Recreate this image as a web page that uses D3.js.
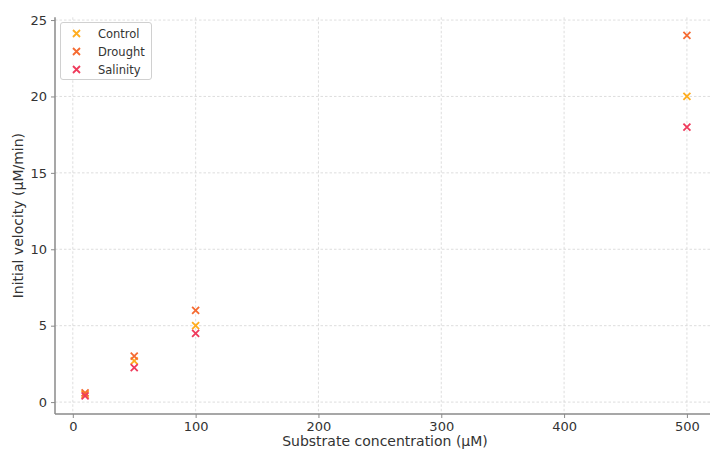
<!DOCTYPE html>
<html><head><meta charset="utf-8">
<script src="https://cdn.jsdelivr.net/npm/d3@7"></script>
<style>body{margin:0;background:#fff;} svg{display:block;font-family:"DejaVu Sans",sans-serif;}</style>
</head><body>
<script>
const substrate = [10, 50, 100, 500];
const seriesNames = ["Control", "Drought", "Salinity"];
const controlValues = [0.5, 2.7, 5.0, 20];
const droughtValues = [0.6, 3.0, 6.0, 24];
const salinityValues = [0.4, 2.25, 4.5, 18];
const xTicks = [0, 100, 200, 300, 400, 500];
const yTicks = [0, 5, 10, 15, 20, 25];
const colors = ["#ffad1f", "#f56b32", "#ef3b5c"];
const series = [controlValues, droughtValues, salinityValues];

const W = 710, H = 454;
const svg = d3.select("body").append("svg").attr("width", W).attr("height", H);
const pL = 55, pR = 717, pT = 17.3, pB = 414;
const x = d3.scaleLinear().domain([-14.5, 524.5]).range([pL, pR]);
const y = d3.scaleLinear().domain([-0.78, 25.18]).range([pB, pT]);

// grid
const g = svg.append("g");
g.selectAll(".vg").data(xTicks).enter().append("line")
  .attr("x1", d => x(d)).attr("x2", d => x(d)).attr("y1", pT).attr("y2", pB)
  .attr("stroke", "#d6d6d6").attr("stroke-width", 0.8).attr("stroke-dasharray", "2.5,2");
g.selectAll(".hg").data(yTicks).enter().append("line")
  .attr("y1", d => y(d)).attr("y2", d => y(d)).attr("x1", pL).attr("x2", W)
  .attr("stroke", "#d6d6d6").attr("stroke-width", 0.8).attr("stroke-dasharray", "2.5,2");

// axes
const xAxis = svg.append("g").attr("transform", `translate(0,${pB})`)
  .call(d3.axisBottom(x).tickValues(xTicks).tickSize(4).tickPadding(4));
const yAxis = svg.append("g").attr("transform", `translate(${pL},0)`)
  .call(d3.axisLeft(y).tickValues(yTicks).tickSize(4).tickPadding(4));
[xAxis, yAxis].forEach(a => {
  a.select(".domain").attr("stroke", "#8a8a8a").attr("stroke-width", 1.5);
  a.selectAll(".tick line").attr("stroke", "#8a8a8a");
  a.selectAll(".tick text").attr("fill", "#333").style("font-size", "13px").style("font-family", "DejaVu Sans");
});
xAxis.select(".domain").attr("d", `M${pL},0H${W}`);
yAxis.select(".domain").attr("d", `M0,${pT}V${pB}`);

svg.append("text").attr("x", 385).attr("y", 446).attr("text-anchor", "middle")
  .attr("fill", "#333").style("font-size", "14px").text("Substrate concentration (µM)");
svg.append("text").attr("transform", `translate(23,${(pT + pB) / 2}) rotate(-90)`)
  .attr("text-anchor", "middle").attr("fill", "#333").style("font-size", "14px")
  .text("Initial velocity (µM/min)");

function cross(sel, cx, cy, color, s) {
  sel.append("path").attr("d", `M${cx - s},${cy - s}L${cx + s},${cy + s}M${cx - s},${cy + s}L${cx + s},${cy - s}`)
    .attr("stroke", color).attr("stroke-width", 1.8).attr("fill", "none");
}

// points
const pts = svg.append("g");
series.forEach((vals, i) => {
  vals.forEach((v, j) => cross(pts, x(substrate[j]), y(v), colors[i], 3.5));
});

// legend
const lg = svg.append("g");
lg.append("rect").attr("x", 60.5).attr("y", 22.5).attr("width", 91).attr("height", 57).attr("rx", 2.5)
  .attr("fill", "#fff").attr("fill-opacity", 0.8).attr("stroke", "#d0d0d0");
seriesNames.forEach((n, i) => {
  const cy = 33.5 + i * 18;
  cross(lg, 76.5, cy, colors[i], 3.5);
  lg.append("text").attr("x", 98).attr("y", cy + 4).attr("fill", "#333").style("font-size", "11.5px").text(n);
});
</script>
</body></html>
